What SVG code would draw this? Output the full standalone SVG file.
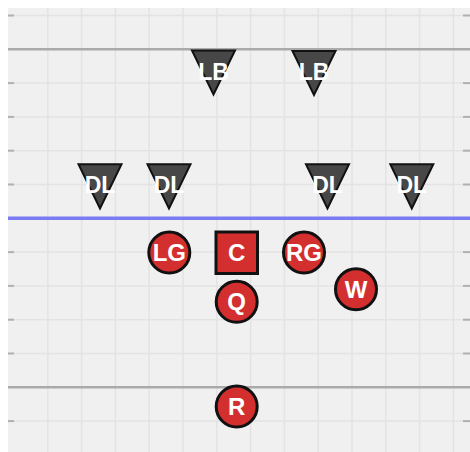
<svg xmlns="http://www.w3.org/2000/svg" width="470" height="452" viewBox="0 0 470 452">
<style>
.grid line{stroke:#e3e3e3;stroke-width:1.5}
.tick{stroke:#b0b0b0;stroke-width:2}
.def polygon{fill:#474747;stroke:#111;stroke-width:2;stroke-linejoin:miter}
.off circle,.off rect{fill:#d32f2f;stroke:#111;stroke-width:3}
text{font-family:"Liberation Sans",Arial,sans-serif;font-weight:bold;fill:#fff;text-anchor:middle}
.dt{font-size:23px}
.ot{font-size:24px}
</style>
<rect x="0" y="0" width="470" height="452" fill="#ffffff"/>
<rect x="8" y="8" width="462" height="444" fill="#f0f0f0"/>
<g class="grid">
<line x1="47.8" y1="8" x2="47.8" y2="452"/>
<line x1="81.6" y1="8" x2="81.6" y2="452"/>
<line x1="115.4" y1="8" x2="115.4" y2="452"/>
<line x1="149.2" y1="8" x2="149.2" y2="452"/>
<line x1="183" y1="8" x2="183" y2="452"/>
<line x1="216.8" y1="8" x2="216.8" y2="452"/>
<line x1="250.6" y1="8" x2="250.6" y2="452"/>
<line x1="284.4" y1="8" x2="284.4" y2="452"/>
<line x1="318.2" y1="8" x2="318.2" y2="452"/>
<line x1="352" y1="8" x2="352" y2="452"/>
<line x1="385.8" y1="8" x2="385.8" y2="452"/>
<line x1="419.6" y1="8" x2="419.6" y2="452"/>
<line x1="453.4" y1="8" x2="453.4" y2="452"/>
<line x1="8" y1="15.5" x2="470" y2="15.5"/>
<line x1="8" y1="83.1" x2="470" y2="83.1"/>
<line x1="8" y1="116.9" x2="470" y2="116.9"/>
<line x1="8" y1="150.7" x2="470" y2="150.7"/>
<line x1="8" y1="184.5" x2="470" y2="184.5"/>
<line x1="8" y1="252.1" x2="470" y2="252.1"/>
<line x1="8" y1="285.9" x2="470" y2="285.9"/>
<line x1="8" y1="319.7" x2="470" y2="319.7"/>
<line x1="8" y1="353.5" x2="470" y2="353.5"/>
<line x1="8" y1="421.1" x2="470" y2="421.1"/>
</g>
<g class="tick">
<line x1="8" y1="15.5" x2="14" y2="15.5"/><line x1="463" y1="15.5" x2="470" y2="15.5"/>
<line x1="8" y1="83.1" x2="14" y2="83.1"/><line x1="463" y1="83.1" x2="470" y2="83.1"/>
<line x1="8" y1="116.9" x2="14" y2="116.9"/><line x1="463" y1="116.9" x2="470" y2="116.9"/>
<line x1="8" y1="150.7" x2="14" y2="150.7"/><line x1="463" y1="150.7" x2="470" y2="150.7"/>
<line x1="8" y1="184.5" x2="14" y2="184.5"/><line x1="463" y1="184.5" x2="470" y2="184.5"/>
<line x1="8" y1="252.1" x2="14" y2="252.1"/><line x1="463" y1="252.1" x2="470" y2="252.1"/>
<line x1="8" y1="285.9" x2="14" y2="285.9"/><line x1="463" y1="285.9" x2="470" y2="285.9"/>
<line x1="8" y1="319.7" x2="14" y2="319.7"/><line x1="463" y1="319.7" x2="470" y2="319.7"/>
<line x1="8" y1="353.5" x2="14" y2="353.5"/><line x1="463" y1="353.5" x2="470" y2="353.5"/>
<line x1="8" y1="421.1" x2="14" y2="421.1"/><line x1="463" y1="421.1" x2="470" y2="421.1"/>
</g>
<g id="field-lines">
<line x1="8" y1="49.2" x2="470" y2="49.2" stroke="#aaaaaa" stroke-width="2.5"/>
<line x1="8" y1="387.3" x2="470" y2="387.3" stroke="#aaaaaa" stroke-width="2.5"/>
<line x1="8" y1="218.3" x2="470" y2="218.3" stroke="#7b7bf2" stroke-width="3.5"/>
</g>
<g id="connectors"></g>
<g class="def">
<g id="lb1"><polygon points="192,50.5 235,50.5 213.5,94.5"/><text class="dt" x="213.5" y="79.5">LB</text></g>
<g id="lb2"><polygon points="292.5,51 335.5,51 314,95"/><text class="dt" x="314" y="79.5">LB</text></g>
<g id="dl1"><polygon points="78.5,164.3 121.5,164.3 100,208.5"/><text class="dt" x="100" y="192.5">DL</text></g>
<g id="dl2"><polygon points="147.5,164.3 190.5,164.3 169,208.5"/><text class="dt" x="169" y="192.5">DL</text></g>
<g id="dl3"><polygon points="306,164.3 349,164.3 327.5,208.5"/><text class="dt" x="327.5" y="192.5">DL</text></g>
<g id="dl4"><polygon points="390.3,164.3 433.3,164.3 411.8,208.5"/><text class="dt" x="411.8" y="192.5">DL</text></g>
</g>
<g class="off">
<g id="lg"><circle cx="169.3" cy="252.5" r="20.5"/><text class="ot" x="169.3" y="261">LG</text></g>
<g id="c"><rect x="216" y="232" width="41.5" height="41.5"/><text class="ot" x="236.7" y="261">C</text></g>
<g id="rg"><circle cx="304" cy="252.5" r="20.5"/><text class="ot" x="304" y="261">RG</text></g>
<g id="w"><circle cx="356" cy="289.2" r="20.5"/><text class="ot" x="356" y="297.7">W</text></g>
<g id="q"><circle cx="236.7" cy="301.7" r="20.5"/><text class="ot" x="236.7" y="310.2">Q</text></g>
<g id="r"><circle cx="236.7" cy="406.5" r="20.5"/><text class="ot" x="236.7" y="415">R</text></g>
</g>
</svg>
